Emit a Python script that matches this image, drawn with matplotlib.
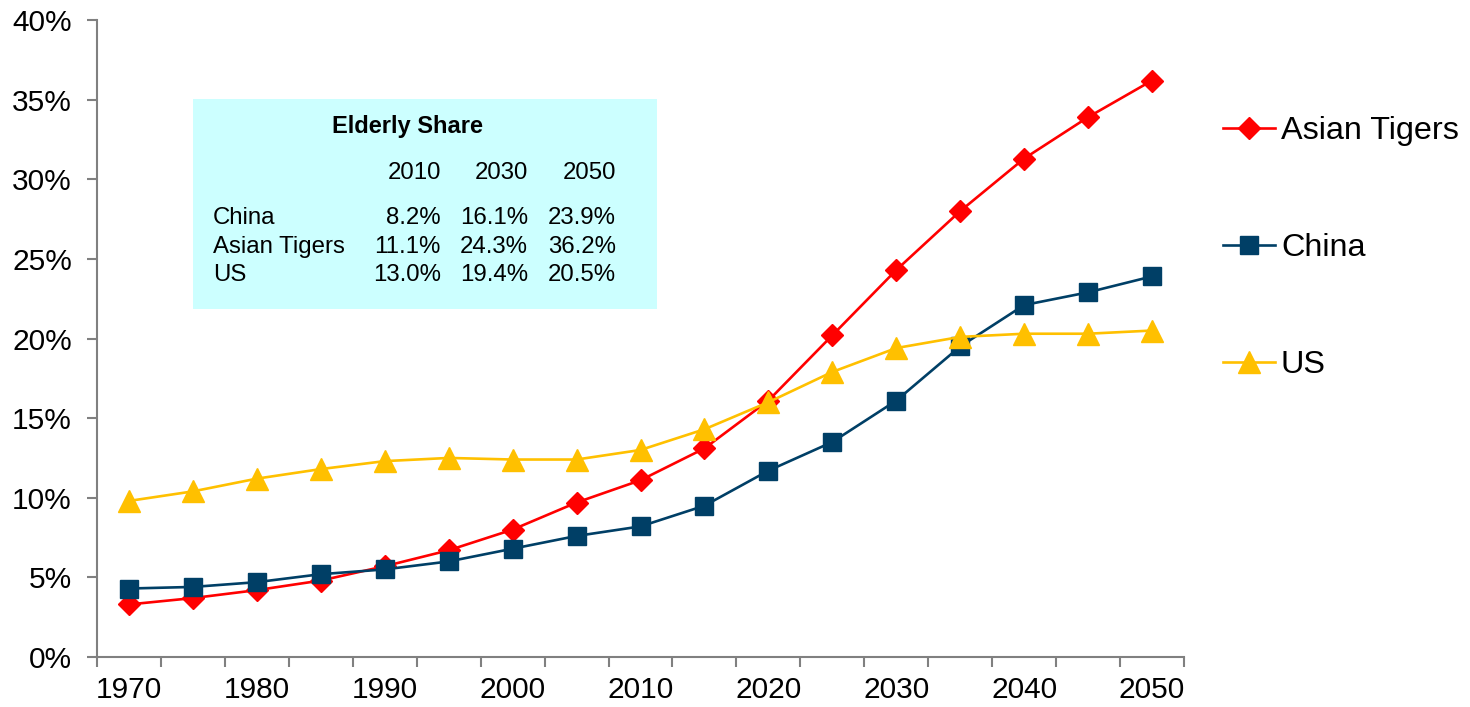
import matplotlib
matplotlib.use("Agg")
from matplotlib import pyplot as plt
from matplotlib.ticker import FuncFormatter, FixedLocator

plt.rcParams['font.family'] = ['Liberation Sans', 'DejaVu Sans']

years = list(range(1970, 2051, 5))
asian_tigers = [3.3, 3.7, 4.2, 4.8, 5.7, 6.7, 8.0, 9.7, 11.1, 13.1, 16.1, 20.2, 24.3, 28.0, 31.3, 33.9, 36.2]
china = [4.3, 4.4, 4.7, 5.2, 5.5, 6.0, 6.8, 7.6, 8.2, 9.5, 11.7, 13.5, 16.1, 19.5, 22.1, 22.9, 23.9]
us = [9.8, 10.4, 11.2, 11.8, 12.3, 12.5, 12.4, 12.4, 13.0, 14.3, 16.0, 17.9, 19.4, 20.1, 20.3, 20.3, 20.5]

# inset table
table_years = ["2010", "2030", "2050"]
table_rows = ["China", "Asian Tigers", "US"]
table_vals = [["8.2%", "16.1%", "23.9%"],
              ["11.1%", "24.3%", "36.2%"],
              ["13.0%", "19.4%", "20.5%"]]

fig = plt.figure(figsize=(14.7, 7.07), dpi=100)
ax = fig.add_axes([97/1470, 50/707, (1184-97)/1470, (657-20)/707])
ax.patch.set_visible(False)

x = list(range(len(years)))
ax.plot(x, asian_tigers, color='#FF0000', lw=1.9, marker='D', ms=11.5, label='Asian Tigers')
ax.plot(x, china, color='#003F66', lw=1.9, marker='s', ms=13, label='China')
ax.plot(x, us, color='#FFC000', lw=1.9, marker='^', ms=16, label='US')

ax.set_xlim(-0.5, len(years) - 0.5)
ax.set_ylim(0, 40)
ax.set_yticks(range(0, 41, 5))
ax.yaxis.set_major_formatter(FuncFormatter(lambda v, p: '%d%%' % v))

# category axis: ticks between categories, labels every other category
ax.xaxis.set_major_locator(FixedLocator([i - 0.5 for i in range(len(years) + 1)]))
ax.xaxis.set_major_formatter(FuncFormatter(lambda v, p: ''))
ax.xaxis.set_minor_locator(FixedLocator(x[::2]))
ax.set_xticklabels([str(y) for y in years[::2]], minor=True)

for s in ['top', 'right']:
    ax.spines[s].set_visible(False)
for s in ['left', 'bottom']:
    ax.spines[s].set_color('#808080')
    ax.spines[s].set_linewidth(1.5)
ax.tick_params(axis='both', which='major', color='#808080', width=1.5, length=7, labelsize=21.5)
ax.tick_params(axis='x', which='minor', length=0, labelsize=21.5, pad=14)
ax.tick_params(axis='y', pad=11)

leg = ax.legend(loc='upper left', bbox_to_anchor=(1223/1470, 1 - 116/707), bbox_transform=fig.transFigure,
                frameon=False, fontsize=23.3, handlelength=1.6, handletextpad=0.19, labelspacing=2.69,
                borderaxespad=0, borderpad=0)

# table box
box = plt.Rectangle((193/1470, 1 - 309/707), (657-193)/1470, (309-99)/707, transform=fig.transFigure,
                    facecolor='#CCFFFF', edgecolor='none', zorder=-1)
fig.add_artist(box)
fig.text(407/1470, 1 - 127/707, "Elderly Share", fontsize=17, fontweight='bold', ha='center', va='center')
col_x = [441, 528, 616]
for cx, yr in zip(col_x, table_years):
    fig.text(cx/1470, 1 - 173/707, yr, fontsize=17.3, ha='right', va='center')
row_y = [218, 247, 275]
for ry, name, vals in zip(row_y, table_rows, table_vals):
    fig.text(213/1470, 1 - ry/707, name, fontsize=17.3, ha='left', va='center')
    for cx, v in zip(col_x, vals):
        fig.text(cx/1470, 1 - ry/707, v, fontsize=17.3, ha='right', va='center')

fig.savefig("out.png", dpi=100)
